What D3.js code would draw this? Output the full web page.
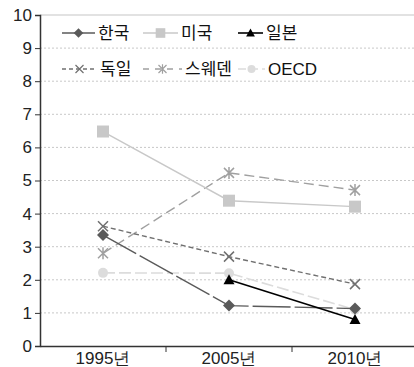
<!DOCTYPE html>
<html><head><meta charset="utf-8">
<script src="https://cdn.jsdelivr.net/npm/d3@7"></script>
<style>body{margin:0;background:#fff}svg{display:block}</style>
</head><body>
<script>
const categories = ["1995년", "2005년", "2010년"];
const yTicks = [0,1,2,3,4,5,6,7,8,9,10];
const korea   = [3.35, 1.22, 1.13];
const usa     = [6.48, 4.39, 4.21];
const japan   = [null, 2.0, 0.8];
const germany = [3.62, 2.7, 1.87];
const sweden  = [2.8, 5.23, 4.71];
const oecd    = [2.21, 2.2, 1.1];
const seriesNames = ["한국", "미국", "일본", "독일", "스웨덴", "OECD"];

const series = [
  {name: seriesNames[0], values: korea,   color: "#5a5a5a", dash: "38,4", marker: "diamond", lw: 1.4},
  {name: seriesNames[1], values: usa,     color: "#c8c8c8", dash: null,   marker: "square",  lw: 1.4},
  {name: seriesNames[2], values: japan,   color: "#000000", dash: null,   marker: "triangle",lw: 1.6},
  {name: seriesNames[3], values: germany, color: "#707070", dash: "5,3",  marker: "x",       lw: 1.4},
  {name: seriesNames[4], values: sweden,  color: "#a0a0a0", dash: "10,5", marker: "asterisk",lw: 1.4},
  {name: seriesNames[5], values: oecd,    color: "#dcdcdc", dash: "12,4", marker: "circle",  lw: 1.6}
];

const W = 414, H = 367;
const m = {l: 40, r: -4, t: 15, b: 21};
const svg = d3.select("body").append("svg").attr("width", W).attr("height", H);
const x = d3.scaleBand().domain(categories).range([m.l, W - m.r]);
const y = d3.scaleLinear().domain([0, 10]).range([H - m.b, m.t]);
const font = "'Liberation Sans Narrow', 'Liberation Sans', Arial, sans-serif";

// gridlines
svg.append("g").selectAll("line").data(yTicks.filter(d => d > 0)).join("line")
  .attr("x1", m.l).attr("x2", W).attr("y1", d => y(d)).attr("y2", d => y(d))
  .attr("stroke", d => d === 10 ? "#d8d8d8" : "#c8c8c8")
  .attr("stroke-width", d => d === 10 ? 1.5 : 1)
  .attr("stroke-dasharray", d => d === 10 ? null : "2,2");

// axes
const yAxis = svg.append("g").attr("transform", `translate(${m.l},0)`)
  .call(d3.axisLeft(y).tickValues(yTicks).tickSize(5).tickPadding(3));
yAxis.select(".domain").attr("stroke", "#333").attr("stroke-width", 1.5);
yAxis.selectAll(".tick line").attr("stroke", "#333");
yAxis.selectAll("text").attr("font-family", font).attr("font-size", 17).attr("fill", "#222");

const xAxis = svg.append("g").attr("transform", `translate(0,${H - m.b})`)
  .call(d3.axisBottom(x).tickSize(0).tickPadding(6));
xAxis.select(".domain").attr("stroke", "#333").attr("stroke-width", 1.5);
xAxis.selectAll("text").attr("font-family", font).attr("font-size", 17).attr("fill", "#222");
// separator ticks between categories
svg.append("g").selectAll("line").data(categories.slice(1)).join("line")
  .attr("x1", d => x(d)).attr("x2", d => x(d))
  .attr("y1", H - m.b).attr("y2", H - m.b + 6).attr("stroke", "#333").attr("stroke-width", 1);

function drawMarker(g, type, cx, cy, color) {
  const s = 5;
  if (type === "diamond") g.append("path").attr("d", `M${cx},${cy-6}L${cx+6},${cy}L${cx},${cy+6}L${cx-6},${cy}Z`).attr("fill", color);
  else if (type === "square") g.append("rect").attr("x", cx-6).attr("y", cy-6).attr("width", 12).attr("height", 12).attr("fill", color);
  else if (type === "triangle") g.append("path").attr("d", `M${cx},${cy-5.5}L${cx+5.5},${cy+4.5}L${cx-5.5},${cy+4.5}Z`).attr("fill", color);
  else if (type === "circle") g.append("circle").attr("cx", cx).attr("cy", cy).attr("r", 5).attr("fill", color);
  else if (type === "x") g.append("path").attr("d", `M${cx-s},${cy-s}L${cx+s},${cy+s}M${cx-s},${cy+s}L${cx+s},${cy-s}`).attr("stroke", color).attr("stroke-width", 1.5).attr("fill", "none");
  else if (type === "asterisk") g.append("path").attr("d", `M${cx-s},${cy-s}L${cx+s},${cy+s}M${cx-s},${cy+s}L${cx+s},${cy-s}M${cx},${cy-6}L${cx},${cy+6}`).attr("stroke", color).attr("stroke-width", 1.5).attr("fill", "none");
}

const line = d3.line().defined(d => d.v != null).x(d => x(d.c) + x.bandwidth()/2).y(d => y(d.v));
const drawOrder = [5, 4, 1, 3, 0, 2];
drawOrder.forEach(i => {
  const s = series[i];
  const pts = categories.map((c, j) => ({c, v: s.values[j]}));
  const g = svg.append("g");
  g.append("path").datum(pts).attr("d", line).attr("fill", "none")
    .attr("stroke", s.color).attr("stroke-width", s.lw).attr("stroke-dasharray", s.dash);
  pts.filter(p => p.v != null).forEach(p => drawMarker(g, s.marker, x(p.c) + x.bandwidth()/2, y(p.v), s.color));
});

// legend
const legendPos = [[62,33,33],[143,33,35],[238,33,25],[62,69,35],[143,69,39],[238,69,27]];
series.forEach((s, i) => {
  const [lx, ly, lw] = legendPos[i];
  svg.append("line").attr("x1", lx).attr("x2", lx + lw).attr("y1", ly).attr("y2", ly)
    .attr("stroke", s.color).attr("stroke-width", s.lw)
    .attr("stroke-dasharray", i === 0 ? null : (i === 3 ? "4,3" : (i === 4 ? "6,6" : s.dash ? "8,4" : null)));
  const ms = svg.append("g");
  drawMarker(ms, s.marker, lx + lw/2, ly, s.color);
  ms.attr("transform", `translate(${lx + lw/2},${ly}) scale(0.8) translate(${-(lx + lw/2)},${-ly})`);
  svg.append("text").attr("x", lx + lw + 3).attr("y", ly + 6).text(s.name)
    .attr("font-family", i === 5 ? font : "'Noto Sans CJK KR', " + font).attr("font-size", 17).attr("fill", "#111");
});
</script>
</body></html>
